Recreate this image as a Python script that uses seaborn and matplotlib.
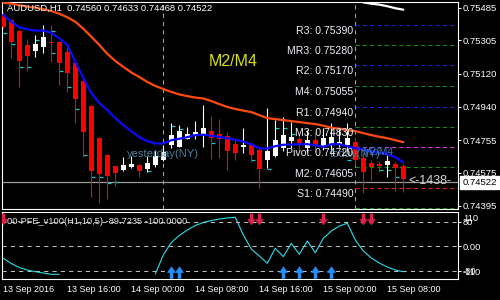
import numpy as np
import pandas as pd
import matplotlib
matplotlib.use("Agg")
import matplotlib.pyplot as plt
import matplotlib.transforms as mtransforms
from matplotlib.path import Path
import seaborn as sns

# ---------------- data ----------------
symbol_header = "AUDUSD,H1  0.74560 0.74633 0.74468 0.74522"
open_ = [0.75446, 0.75419, 0.75358, 0.75280, 0.75247, 0.75269, 0.75297, 0.75297, 0.75242, 0.75181,
         0.75081, 0.74943, 0.74766, 0.74672, 0.74611, 0.74589, 0.74606, 0.74617, 0.74595, 0.74617,
         0.74644, 0.74728, 0.74717, 0.74762, 0.74778, 0.74784, 0.74806, 0.74789, 0.74778, 0.74734,
         0.74718, 0.74727, 0.74700, 0.74644, 0.74667, 0.74711, 0.74750, 0.74761, 0.74711, 0.74755,
         0.74716, 0.74727, 0.74727, 0.74727, 0.74744, 0.74656, 0.74628, 0.74622, 0.74617, 0.74622,
         0.74611]
high = [0.75463, 0.75424, 0.75363, 0.75314, 0.75336, 0.75391, 0.75391, 0.75302, 0.75269, 0.75186,
        0.75087, 0.74949, 0.74772, 0.74678, 0.74617, 0.74661, 0.74667, 0.74622, 0.74667, 0.74700,
        0.74728, 0.74849, 0.74838, 0.74827, 0.74860, 0.74949, 0.74888, 0.74871, 0.74800, 0.74756,
        0.74821, 0.74739, 0.74711, 0.74932, 0.74866, 0.74882, 0.74855, 0.74788, 0.74810, 0.74799,
        0.74821, 0.74849, 0.74821, 0.74849, 0.74772, 0.74683, 0.74644, 0.74639, 0.74672, 0.74633,
        0.74622]
low = [0.75374, 0.75209, 0.75048, 0.75137, 0.75214, 0.75236, 0.75186, 0.75059, 0.75020, 0.74849,
       0.74661, 0.74440, 0.74407, 0.74429, 0.74501, 0.74584, 0.74600, 0.74550, 0.74578, 0.74606,
       0.74639, 0.74711, 0.74716, 0.74761, 0.74762, 0.74716, 0.74650, 0.74656, 0.74589, 0.74644,
       0.74683, 0.74633, 0.74490, 0.74600, 0.74661, 0.74694, 0.74711, 0.74700, 0.74689, 0.74689,
       0.74700, 0.74700, 0.74716, 0.74689, 0.74617, 0.74462, 0.74534, 0.74578, 0.74550, 0.74473,
       0.74467]
close = [0.75380, 0.75297, 0.75192, 0.75220, 0.75286, 0.75325, 0.75291, 0.75181, 0.75126, 0.74982,
         0.74799, 0.74584, 0.74567, 0.74556, 0.74573, 0.74617, 0.74622, 0.74584, 0.74628, 0.74667,
         0.74689, 0.74784, 0.74806, 0.74789, 0.74800, 0.74822, 0.74767, 0.74762, 0.74695, 0.74684,
         0.74730, 0.74672, 0.74595, 0.74694, 0.74755, 0.74784, 0.74772, 0.74739, 0.74755, 0.74722,
         0.74766, 0.74772, 0.74744, 0.74766, 0.74644, 0.74578, 0.74606, 0.74614, 0.74639, 0.74600,
         0.74539]
ma_fast = [0.75446, 0.75408, 0.75377, 0.75366, 0.75359, 0.75359, 0.75347, 0.75316, 0.75280, 0.75186,
           0.75098, 0.75015, 0.74960, 0.74921, 0.74877, 0.74838, 0.74805, 0.74772, 0.74750, 0.74737,
           0.74737, 0.74755, 0.74763, 0.74772, 0.74783, 0.74785, 0.74780, 0.74773, 0.74766, 0.74758,
           0.74747, 0.74733, 0.74711, 0.74709, 0.74722, 0.74730, 0.74731, 0.74733, 0.74733, 0.74727,
           0.74719, 0.74733, 0.74733, 0.74722, 0.74711, 0.74703, 0.74694, 0.74686, 0.74678, 0.74661,
           0.74633]
ma_slow = [0.75513, 0.75507, 0.75499, 0.75491, 0.75485, 0.75477, 0.75466, 0.75452, 0.75432, 0.75408,
           0.75369, 0.75325, 0.75280, 0.75231, 0.75192, 0.75159, 0.75128, 0.75103, 0.75076, 0.75054,
           0.75037, 0.75021, 0.75007, 0.74998, 0.74990, 0.74985, 0.74971, 0.74954, 0.74938, 0.74927,
           0.74918, 0.74910, 0.74893, 0.74877, 0.74871, 0.74866, 0.74860, 0.74855, 0.74849, 0.74844,
           0.74835, 0.74824, 0.74819, 0.74810, 0.74805, 0.74794, 0.74783, 0.74774, 0.74766, 0.74755,
           0.74744]
ma_long_bars = [45, 46, 47, 48, 49, 50]
ma_long = [0.75514, 0.75507, 0.75502, 0.75493, 0.75482, 0.75474]

mark_bars = [0, 1, 2, 3, 4, 6, 6, 7, 8, 9, 10, 11, 12, 13, 14, 18, 21, 22, 26, 31, 33, 34, 35, 36, 43, 47, 48, 49]
mark_prices = [0.75347, 0.75286, 0.75159, 0.75159, 0.75308, 0.75359, 0.75236, 0.75138, 0.75048, 0.74926,
               0.74672, 0.74550, 0.74550, 0.74521, 0.74523, 0.74585, 0.74834, 0.74816, 0.74737, 0.74644,
               0.74595, 0.74823, 0.74823, 0.74788, 0.74644, 0.74589, 0.74589, 0.74550]

bid_price = 0.74522
separator_bars = [20, 44]
pivot_names = ["R3", "MR3", "R2", "M4", "R1", "M3", "Pivot", "M2", "S1", ""]
pivot_values = [0.75390, 0.75280, 0.75170, 0.75055, 0.74940, 0.74830, 0.74720, 0.74605, 0.74490, 0.74380]
pivot_colors = ["#2222c8", "#109010", "#2222c8", "#109010", "#2222c8", "#109010", "#e030e0", "#109010", "#e82020", "#109010"]
price_ticks = [0.75485, 0.75305, 0.75120, 0.74940, 0.74755, 0.74575, 0.74395]

pfe = [-39.5, -56.5, -69.5, -77.7, -83.2, -87.4, -91.7, -91.7, np.nan, np.nan,
       np.nan, np.nan, np.nan, np.nan, np.nan, np.nan, np.nan, np.nan, np.nan, -90.7,
       -28.8, 12.0, 34.8, 52.7, 67.4, 77.1, 83.7, 88.6, 91.8, 94.1,
       36.4, -9.2, -32.0, -55.8, -6.9, -34.3, 9.4, -26.5, 16.9, -21.3,
       25.7, 49.4, 65.7, 74.5, 20.1, -15.7, -38.6, -54.9, -67.9, -77.7,
       -83.2]
sell_bars = [0, 31, 32, 40, 45, 46]
sell_level = 90
buy_bars = [21, 22, 35, 37, 39, 41]
buy_level = -83
pfe_levels = [80, 0, -80]
pfe_level_labels = ["80", "0.00", "-80"]
pfe_title = "00-PFE_v100(H1,10,5) -89.7235 -100.0000"

time_tick_bars = [0, 8, 16, 24, 32, 40, 48]
time_tick_labels = ["13 Sep 2016", "13 Sep 16:00", "14 Sep 00:00", "14 Sep 08:00",
                    "14 Sep 16:00", "15 Sep 00:00", "15 Sep 08:00"]

# ---------------- style ----------------
sns.set_style("white", rc={"axes.facecolor": "black", "figure.facecolor": "black",
                           "axes.edgecolor": "white", "text.color": "white"})
plt.rcParams["font.family"] = ["Liberation Sans", "DejaVu Sans"]

W, H = 500, 300
fig = plt.figure(figsize=(5, 3), dpi=100)
fig.patch.set_facecolor("black")


def rect(l, t, r, b):
    return [l / W, 1 - b / H, (r - l) / W, (b - t) / H]


ax1 = fig.add_axes(rect(2, 1.7, 457.7, 209))
ax2 = fig.add_axes(rect(2, 211.5, 457.7, 279))

x0 = -0.1625
x1 = x0 + 455.7 / 8
bars = np.arange(len(close))
o = np.array(open_); c = np.array(close); hi = np.array(high); lo = np.array(low)

for ax in (ax1, ax2):
    ax.set_facecolor("black")
    ax.set_xlim(x0, x1)
    for s in ax.spines.values():
        s.set_color("white")
        s.set_linewidth(0.8)
        s.set_visible(True)

ax1.set_ylim(0.74376, 0.75518)

# day separators
for b in separator_bars:
    ax1.axvline(b, color="#a8a8a8", lw=0.75, ls=(0, (4, 4)), zorder=1)

# pivot lines
sep_last = separator_bars[-1]
for name, val, col in zip(pivot_names, pivot_values, pivot_colors):
    ax1.hlines(val, sep_last, x1, colors=col, lw=0.75, linestyles=(0, (4, 3)), zorder=1)

# bid line
ax1.axhline(bid_price, color="#9a9a9a", lw=0.9, zorder=1)

# candles
up = c >= o
colors = np.where(up, "white", "#ff0000")
ax1.vlines(bars, lo, hi, colors=colors, lw=0.8, zorder=3)
body = np.maximum(np.abs(c - o), 0.00006)
ax1.bar(bars, body, bottom=np.minimum(o, c), width=0.6, color=colors, linewidth=0, zorder=3)

# small cyan marks
ax1.plot(np.array(mark_bars) + 0.2, mark_prices, ls="none", marker="_", ms=3.5, mew=0.9,
         color="#22c8c8", zorder=2)

# moving averages
ma_df = pd.DataFrame({"bar": bars, "fast": ma_fast, "slow": ma_slow})
sns.lineplot(data=ma_df, x="bar", y="slow", ax=ax1, color="#ff4a10", lw=1.6, zorder=4)
sns.lineplot(data=ma_df, x="bar", y="fast", ax=ax1, color="#0a0aff", lw=1.6, zorder=5)
sns.lineplot(x=ma_long_bars, y=ma_long, ax=ax1, color="white", lw=1.6, zorder=4)

# texts
ax1.text(0.011, 0.992, symbol_header, transform=ax1.transAxes, ha="left", va="top",
         fontsize=6.8, color="white", zorder=10)
for name, val in zip(pivot_names, pivot_values):
    if name:
        ax1.annotate(f"{name}: {val:.5f}", xy=(sep_last, val), xytext=(-1.5, -0.8),
                     textcoords="offset points", ha="right", va="top", fontsize=7.6,
                     color="#f0f0f8", zorder=9)
ax1.text(separator_bars[0], 0.74679, "yesterday(NY)", ha="center", va="center",
         fontsize=8.1, color="#4f7f9a", zorder=6)
ax1.text(separator_bars[1], 0.74679, "today(NY)", ha="center", va="center",
         fontsize=8.1, color="#4f7f9a", zorder=6)
ax1.text(46.8, 0.74690, "M2/M4", ha="center", va="center", fontsize=7.2,
         color="#3a78c8", zorder=6)
ax1.text(28.7, 0.75186, "M2/M4", ha="center", va="center", fontsize=11.5,
         color="#d8e010", zorder=6)
ax1.annotate("<-1438-", xy=(bars[-1] + 0.6, bid_price), xytext=(0, 1.2), textcoords="offset points",
             ha="left", va="center", fontsize=9, color="#d8d8d8", zorder=9)

# y axis
ax1.yaxis.tick_right()
ax1.set_yticks(price_ticks)
ax1.set_yticklabels([f"{v:.5f}" for v in price_ticks])
ax1.tick_params(axis="y", colors="white", labelsize=6.8, length=2.2, width=0.75, pad=1.6,
                direction="out", labelcolor="white")
ax1.set_xticks([])
ax1.set_xlabel(""); ax1.set_ylabel("")
ax1.annotate(f"{bid_price:.5f}", xy=(1, bid_price), xycoords=("axes fraction", "data"),
             xytext=(3.2, 0), textcoords="offset points", ha="left", va="center",
             fontsize=6.8, color="black", annotation_clip=False, zorder=12,
             bbox=dict(boxstyle="square,pad=0.2", fc="white", ec="white"))

# ---------------- PFE sub panel ----------------
ax2.set_ylim(-107, 113)
for lv in pfe_levels:
    ax2.axhline(lv, color="#bdbdbd", lw=0.75, ls=(0, (4, 4)), zorder=1)

pfe_arr = np.array(pfe, dtype=float)
pfe_df = pd.DataFrame({"bar": bars, "pfe": pfe_arr, "seg": np.cumsum(np.isnan(pfe_arr))}).dropna()
sns.lineplot(data=pfe_df, x="bar", y="pfe", units="seg", estimator=None, ax=ax2,
             color="#30dce8", lw=0.8, zorder=3)

down_arrow = Path([(-0.28, 1), (0.28, 1), (0.28, 0.05), (0.72, 0.05), (0, -1), (-0.72, 0.05),
                   (-0.28, 0.05), (-0.28, 1)], closed=True)
up_arrow = Path([(x, -y) for x, y in down_arrow.vertices], closed=True)
ax2.plot(sell_bars, [sell_level] * len(sell_bars), ls="none", marker=down_arrow, ms=8.5,
         mew=0, color="#e0204a", zorder=4)
ax2.plot(buy_bars, [buy_level] * len(buy_bars), ls="none", marker=up_arrow, ms=9,
         mew=0, color="#2390f5", zorder=4)

ax2.text(0.01, 80, pfe_title, transform=mtransforms.blended_transform_factory(ax2.transAxes, ax2.transData),
         ha="left", va="center", fontsize=6.7, color="#e8e8e8", zorder=6)

ax2.yaxis.tick_right()
ax2.set_yticks(pfe_levels)
ax2.set_yticklabels(pfe_level_labels)
ax2.tick_params(axis="y", colors="white", labelsize=6.7, length=2.2, width=0.75, pad=1.6,
                labelcolor="white")
bt = mtransforms.blended_transform_factory(ax2.transAxes, ax2.transData)
ax2.annotate("110", xy=(1, 90.8), xycoords=bt, xytext=(3.8, 0), textcoords="offset points",
             ha="left", va="center", fontsize=6.7, color="white", annotation_clip=False)
ax2.annotate("-110", xy=(1, -87.4), xycoords=bt, xytext=(3.8, 0), textcoords="offset points",
             ha="left", va="center", fontsize=6.7, color="white", annotation_clip=False)

ax2.set_xticks(time_tick_bars)
ax2.set_xticklabels(time_tick_labels)
for lab in ax2.get_xticklabels():
    lab.set_horizontalalignment("left")
ax2.tick_params(axis="x", colors="white", labelsize=6.5, length=3, width=0.75, pad=1.5,
                direction="out", labelcolor="white")
ax2.set_xlabel(""); ax2.set_ylabel("")

fig.savefig("out.png", dpi=100, facecolor="black")
